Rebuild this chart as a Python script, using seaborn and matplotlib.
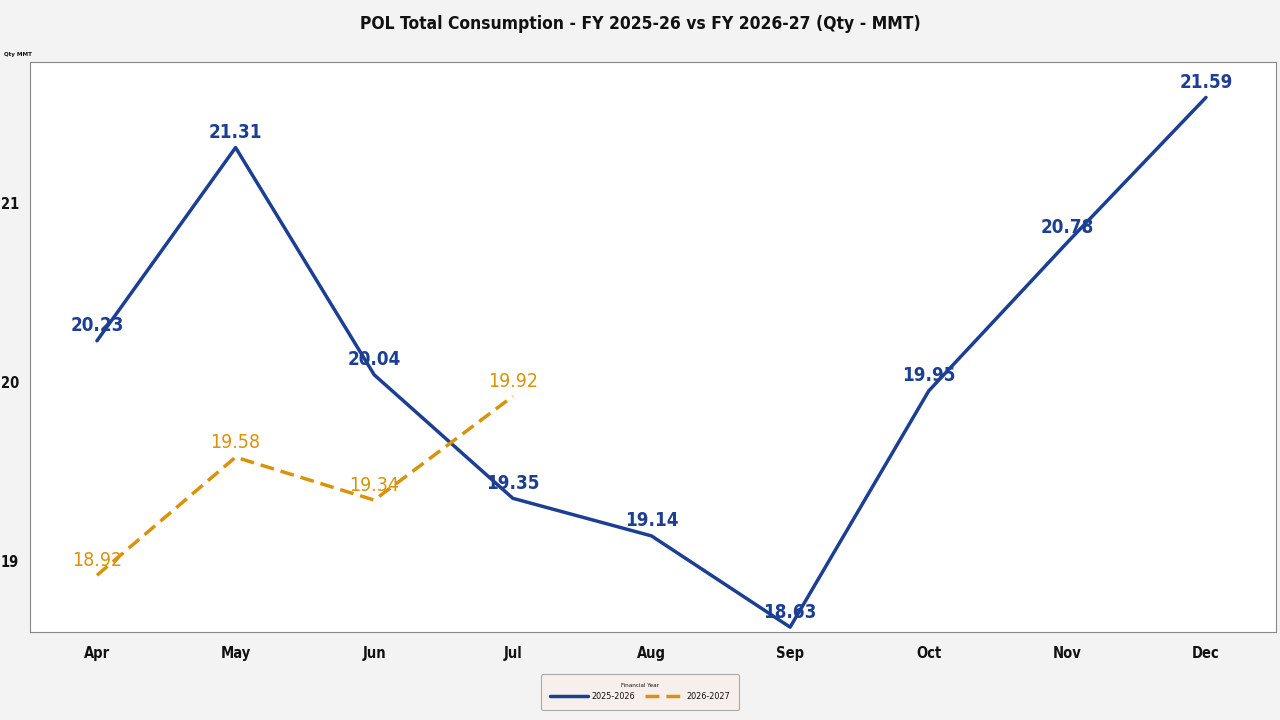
import numpy as np
import pandas as pd
import matplotlib
matplotlib.use("Agg")
import matplotlib.pyplot as plt
import seaborn as sns
from matplotlib import font_manager as fm

months = ["Apr", "May", "Jun", "Jul", "Aug", "Sep", "Oct", "Nov", "Dec"]
fy_2526 = [20.23, 21.31, 20.04, 19.35, 19.14, 18.63, 19.95, 20.78, 21.59]
fy_2627 = [18.92, 19.58, 19.34, 19.92]
series_names = ["2025-2026", "2026-2027"]
yticks = [19, 20, 21]

BLUE = "#1c3f94"
ORANGE = "#d9930b"
INK = "#111111"

# narrow face if one is around (reference uses a Calibri-like font)
condensed = [f for f in fm.fontManager.ttflist
             if "Narrow" in f.name or "Condensed" in f.name or f.stretch in ("condensed", "semi-condensed")]
family = condensed[0].name if condensed else "DejaVu Sans"
stretch = condensed[0].stretch if condensed else "normal"

sns.set_theme(style="white")
plt.rcParams["font.family"] = [family, "DejaVu Sans"]
plt.rcParams["font.stretch"] = stretch
plt.rcParams["text.color"] = INK
plt.rcParams["xtick.color"] = INK
plt.rcParams["ytick.color"] = INK

rows = []
for m, v in zip(months, fy_2526):
    rows.append({"Month": m, "Qty": v, "Financial Year": series_names[0]})
for m, v in zip(months, fy_2627):
    rows.append({"Month": m, "Qty": v, "Financial Year": series_names[1]})
df = pd.DataFrame(rows)
df["x"] = df["Month"].map({m: i for i, m in enumerate(months)})

fig = plt.figure(figsize=(12.8, 7.2), dpi=100, facecolor="#f3f3f3")
ax = fig.add_axes([30 / 1280, 1 - 632 / 720, 1246 / 1280, 570 / 720])
ax.set_facecolor("white")

sns.lineplot(data=df, x="x", y="Qty", hue="Financial Year", style="Financial Year",
             palette={series_names[0]: BLUE, series_names[1]: ORANGE},
             dashes={series_names[0]: "", series_names[1]: (4, 2)},
             linewidth=2.5, ax=ax)

for i, v in enumerate(fy_2526):
    ax.annotate(f"{v:.2f}", (i, v), xytext=(0, 4), textcoords="offset points",
                ha="center", va="bottom", color=BLUE, fontsize=13.5, fontweight="bold")
for i, v in enumerate(fy_2627):
    ax.annotate(f"{v:.2f}", (i, v), xytext=(0, 4), textcoords="offset points",
                ha="center", va="bottom", color=ORANGE, fontsize=14)

ax.set_xlim(-0.483, 8.505)
ax.set_ylim(18.603, 21.788)
ax.set_xticks(range(len(months)))
ax.set_xticklabels(months, fontsize=10.5, fontweight="bold")
ax.set_yticks(yticks)
ax.set_yticklabels([str(t) for t in yticks], fontsize=10.5, fontweight="bold")
ax.tick_params(axis="x", length=0, pad=10)
ax.tick_params(axis="y", length=0, pad=8)
ax.set_xlabel("")
ax.set_ylabel("")
for s in ax.spines.values():
    s.set_color("#888888")
    s.set_linewidth(0.8)

fig.text(4 / 1280, 1 - 57 / 720, "Qty MMT", fontsize=4.5, fontweight="bold", va="bottom")
fig.text(0.5, 1 - 24 / 720, "POL Total Consumption - FY 2025-26 vs FY 2026-27 (Qty - MMT)",
         ha="center", va="center", fontsize=12.5, fontweight="bold")

leg = ax.legend(title="Financial Year", loc="center", bbox_to_anchor=(640 / 1280, 1 - 692 / 720),
                bbox_transform=fig.transFigure, ncol=2, frameon=True, fontsize=6.5,
                title_fontsize=4.5, handlelength=4.2, handletextpad=0.4, columnspacing=1.0,
                facecolor="#f7efe9", edgecolor="#999999", fancybox=True, borderpad=1.0)
leg.get_frame().set_linewidth(0.8)

fig.savefig("out.png", dpi=100, facecolor=fig.get_facecolor())
